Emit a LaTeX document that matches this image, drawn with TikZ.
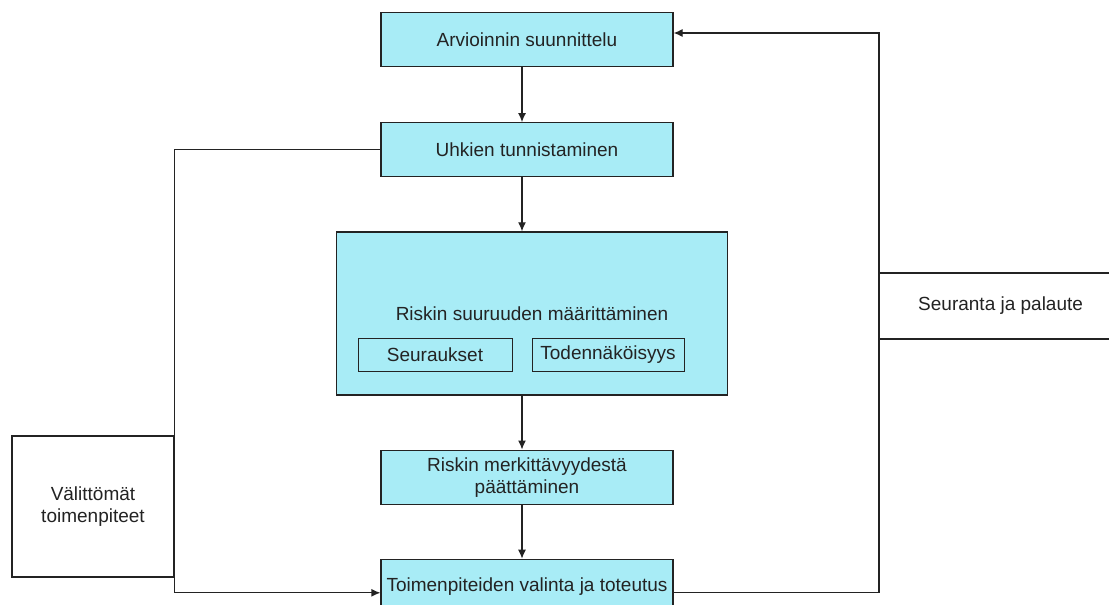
\documentclass[tikz,border=0pt]{standalone}
\usepackage{fontspec}
\setmainfont{Liberation Sans}
\usetikzlibrary{positioning}
\usetikzlibrary{arrows.meta}
\definecolor{boxcyan}{RGB}{168,236,246}
\definecolor{ink}{RGB}{35,35,35}

\begin{document}
\begin{tikzpicture}[x=1pt,y=-1pt,
	font=\fontsize{19}{22}\selectfont,
	every node/.style={text=ink},
	stage/.style={draw=ink,fill=boxcyan,line width=1.2pt,minimum width=292pt,minimum height=54pt,align=center,inner sep=0pt},
	subbox/.style={draw=ink,line width=1pt,minimum height=33pt,inner sep=0pt},
	sidebox/.style={draw=ink,fill=white,line width=1.2pt,align=center,inner sep=0pt},
	arr/.style={draw=ink,line width=1.2pt,-{Latex[length=9pt,width=8pt]}}]
				\useasboundingbox (0,0) rectangle (1109,605);
				\clip (0,0) rectangle (1109,605);

				\node[stage](arv) at (527,39.5) {Arvioinnin suunnittelu};
				\node[stage,below=55pt of arv](uhk) {Uhkien tunnistaminen};
				\node[stage,below=54pt of uhk,xshift=5pt,minimum width=391pt,minimum height=163pt](suur) {Riskin suuruuden määrittäminen};
				\node[subbox,minimum width=154pt](seur) at (435,354.5) {Seuraukset};
				\node[subbox,minimum width=152pt](tod) at (608,354.5) {Todennäköisyys};
				\node[stage,below=54pt of suur,xshift=-5pt](merk) {Riskin merkittävyydestä\\päättäminen};
				\node[stage,below=54pt of merk](toim) {Toimenpiteiden valinta ja toteutus};
				\node[sidebox,minimum width=162pt,minimum height=141pt](vali) at (93,506.5) {Välittömät\\toimenpiteet};
				\node[sidebox,anchor=west,minimum width=242pt,minimum height=66pt](seur2) at (879,306) {Seuranta ja palaute};

				\coordinate (spine) at (522,0);
				\coordinate (toimin) at ([yshift=-6.5pt]toim.west);
				\coordinate (toimout) at ([yshift=-6.5pt]toim.east);
				\coordinate (arvin) at ([yshift=6.5pt]arv.east);

				\draw[arr] (arv.south -| spine) to (uhk.north -| spine);
				\draw[arr] (uhk.south -| spine) to (suur.north -| spine);
				\draw[arr] (suur.south -| spine) to (merk.north -| spine);
				\draw[arr] (merk.south -| spine) to (toim.north -| spine);
				\draw[arr] (uhk.west) -- (uhk.west -| vali.east) -- (vali.east |- toimin) -- (toimin);
				\draw[arr] (toimout) -- (toimout -| seur2.west) -- (arvin -| seur2.west) -- (arvin);
\end{tikzpicture}
\end{document}
